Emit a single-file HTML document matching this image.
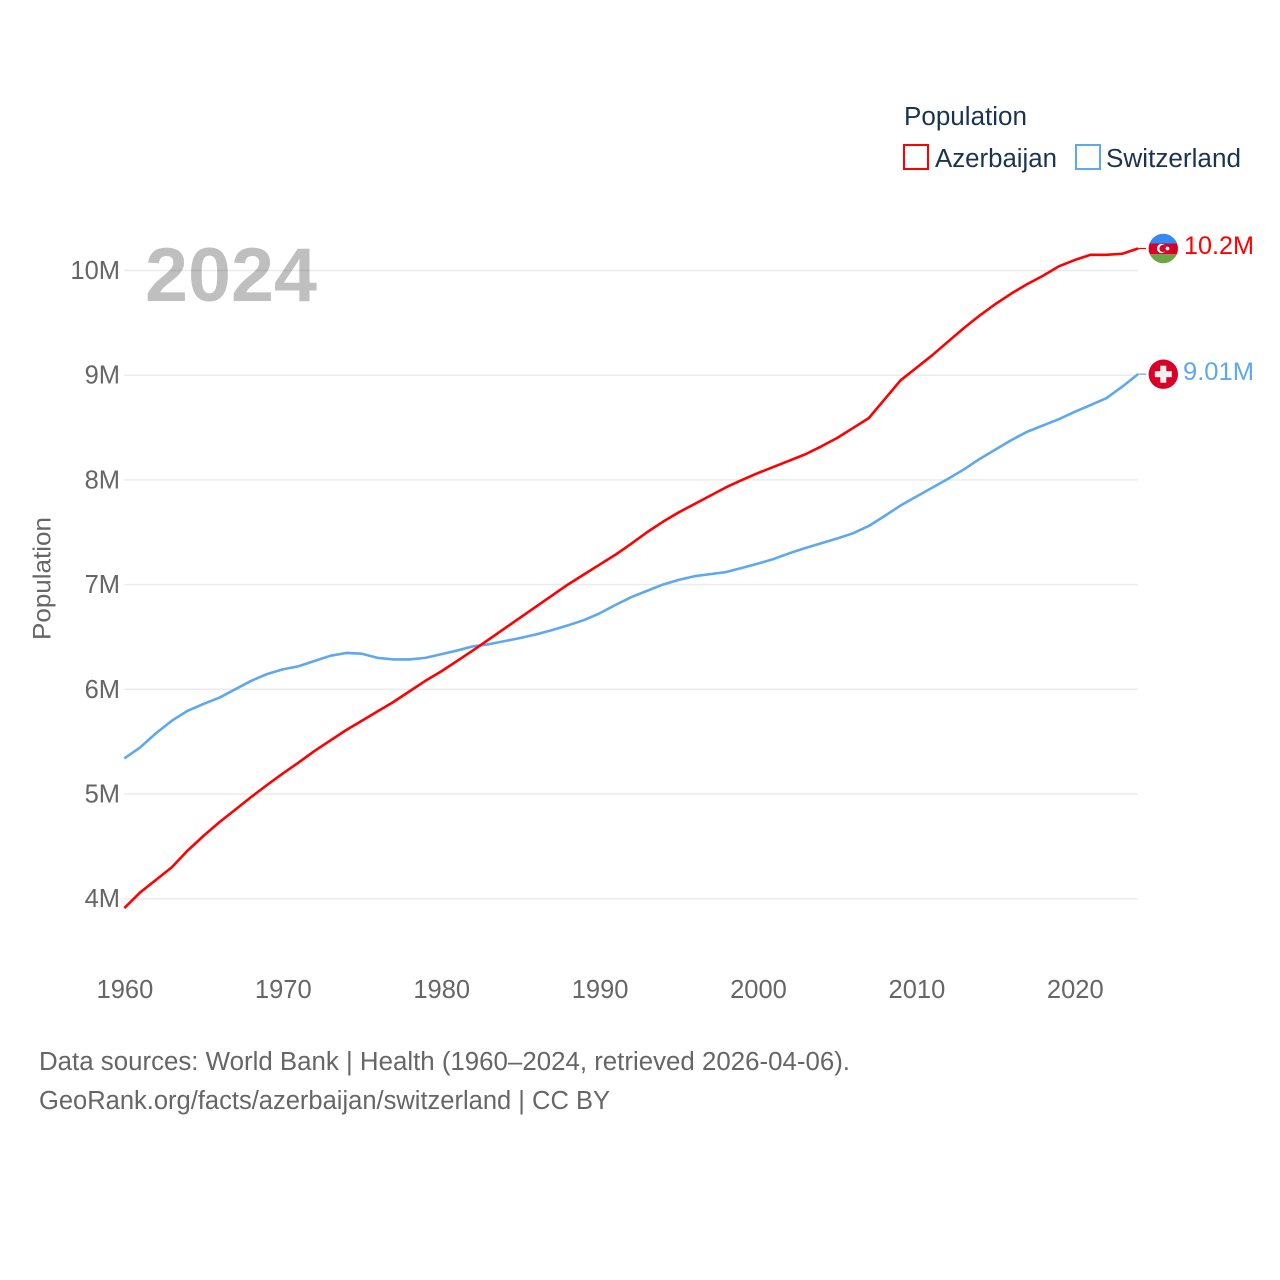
<!DOCTYPE html>
<html lang="en">
<head>
<meta charset="utf-8">
<title>Population: Azerbaijan and Switzerland</title>
<style>
html,body{margin:0;padding:0;background:#fff;width:1280px;height:1280px;overflow:hidden}
svg{display:block}
text{font-family:"Liberation Sans",sans-serif}
</style>
</head>
<body>
<svg id="chart" width="1280" height="1280" viewBox="0 0 1280 1280" xmlns="http://www.w3.org/2000/svg">
  <defs>
    <clipPath id="clip-az"><circle cx="1163.3" cy="248.5" r="14.7"/></clipPath>
  </defs>
  <text x="145" y="301" font-size="76" font-weight="700" fill="#bfbfbf" textLength="172" lengthAdjust="spacingAndGlyphs">2024</text>
  <g id="grid"></g>
  <g id="y-ticks"></g>
  <g id="x-ticks"></g>
  <text transform="translate(50.5 640) rotate(-90)" font-size="25" fill="#666666" textLength="123" lengthAdjust="spacingAndGlyphs">Population</text>
  <g id="series"></g>

  <g>
    <text x="904" y="125" font-size="25.5" fill="#1b3350" textLength="123" lengthAdjust="spacingAndGlyphs">Population</text>
    <rect x="904" y="145" width="24" height="24" fill="none" stroke="#ff0000" stroke-width="2"/>
    <text x="935" y="167" font-size="25.5" fill="#1b3350" textLength="122" lengthAdjust="spacingAndGlyphs">Azerbaijan</text>
    <rect x="1076" y="145" width="24" height="24" fill="none" stroke="#5ea8ee" stroke-width="2"/>
    <text x="1106" y="167" font-size="25.5" fill="#1b3350" textLength="135" lengthAdjust="spacingAndGlyphs">Switzerland</text>
  </g>

  <g>
    <g clip-path="url(#clip-az)">
      <rect x="1148" y="233" width="31" height="10.5" fill="#338af3"/>
      <rect x="1148" y="243.5" width="31" height="10.8" fill="#d80027"/>
      <rect x="1148" y="254.3" width="31" height="10" fill="#6da544"/>
    </g>
    <circle cx="1161.5" cy="248.5" r="4.6" fill="#ffffff"/>
    <circle cx="1163" cy="248.5" r="3.6" fill="#d80027"/>
    <circle cx="1167.5" cy="248.5" r="1.9" fill="#ffffff"/>
  </g>
  <g>
    <circle cx="1163.3" cy="374.2" r="14.7" fill="#d80027"/>
    <rect x="1160.3" y="365.7" width="6" height="17" fill="#f0f0f0"/>
    <rect x="1154.8" y="371.2" width="17" height="6" fill="#f0f0f0"/>
  </g>
  <text x="1184" y="254" font-size="25" fill="#ff0000" textLength="70" lengthAdjust="spacingAndGlyphs">10.2M</text>
  <text x="1183" y="380" font-size="25" fill="#5ea8ee" textLength="71" lengthAdjust="spacingAndGlyphs">9.01M</text>

  <g>
    <text x="39" y="1070" font-size="25.5" fill="#666666" textLength="811" lengthAdjust="spacingAndGlyphs">Data sources: World Bank | Health (1960–2024, retrieved 2026-04-06).</text>
    <text x="39" y="1109" font-size="25.5" fill="#666666" textLength="571" lengthAdjust="spacingAndGlyphs">GeoRank.org/facts/azerbaijan/switzerland | CC BY</text>
  </g>
</svg>
<script>
const years = [1960,1961,1962,1963,1964,1965,1966,1967,1968,1969,1970,1971,1972,1973,1974,1975,1976,1977,1978,1979,1980,1981,1982,1983,1984,1985,1986,1987,1988,1989,1990,1991,1992,1993,1994,1995,1996,1997,1998,1999,2000,2001,2002,2003,2004,2005,2006,2007,2008,2009,2010,2011,2012,2013,2014,2015,2016,2017,2018,2019,2020,2021,2022,2023,2024];
const azerbaijan = [3.91,4.06,4.18,4.30,4.46,4.60,4.73,4.85,4.97,5.085,5.195,5.30,5.41,5.51,5.61,5.70,5.79,5.88,5.98,6.08,6.17,6.27,6.37,6.475,6.58,6.685,6.79,6.895,7.00,7.095,7.19,7.285,7.39,7.50,7.60,7.69,7.77,7.85,7.93,8.00,8.065,8.125,8.185,8.245,8.32,8.40,8.495,8.59,8.77,8.95,9.07,9.19,9.32,9.45,9.57,9.68,9.78,9.87,9.95,10.04,10.10,10.15,10.15,10.16,10.21];
const switzerland = [5.34,5.445,5.58,5.70,5.795,5.86,5.92,6.00,6.08,6.145,6.19,6.22,6.27,6.32,6.347,6.34,6.30,6.285,6.285,6.30,6.335,6.37,6.41,6.43,6.46,6.49,6.525,6.565,6.61,6.66,6.725,6.805,6.88,6.94,7.00,7.045,7.08,7.10,7.12,7.16,7.20,7.245,7.30,7.35,7.395,7.44,7.49,7.56,7.655,7.755,7.84,7.925,8.01,8.10,8.20,8.29,8.38,8.46,8.52,8.58,8.65,8.715,8.78,8.89,9.01];
const yTickValues = [4,5,6,7,8,9,10];
const yTickLabels = ["4M","5M","6M","7M","8M","9M","10M"];
const xTickValues = [1960,1970,1980,1990,2000,2010,2020];

function xScale(year) { return 124.3 + (year - 1960) * 15.84; }
function yScale(value) { return 898.7 - (value - 4) * 104.7; }

const NS = 'http://www.w3.org/2000/svg';
const gridLayer = document.getElementById('grid');
const yLayer = document.getElementById('y-ticks');
const xLayer = document.getElementById('x-ticks');
const seriesLayer = document.getElementById('series');

yTickValues.forEach(function (value, i) {
  const line = document.createElementNS(NS, 'line');
  
  
  line.setAttribute('x1', xScale(1960));
  line.setAttribute('x2', xScale(2024));
  line.setAttribute('y1', yScale(value));
  line.setAttribute('y2', yScale(value));
  line.setAttribute('stroke', 'rgba(0,0,0,0.08)');
  line.setAttribute('stroke-width', '1.5');
  gridLayer.appendChild(line);

  const label = document.createElementNS(NS, 'text');
  
  
  label.setAttribute('x', 120);
  label.setAttribute('y', yScale(value) + 8.5);
  label.setAttribute('text-anchor', 'end');
  label.setAttribute('font-size', '25.5');
  label.setAttribute('fill', '#666666');
  label.textContent = yTickLabels[i];
  yLayer.appendChild(label);
});

xTickValues.forEach(function (year) {
  const label = document.createElementNS(NS, 'text');
  
  
  label.setAttribute('x', xScale(year) + 0.6);
  label.setAttribute('y', 998);
  label.setAttribute('text-anchor', 'middle');
  label.setAttribute('font-size', '25.5');
  label.setAttribute('fill', '#666666');
  label.textContent = String(year);
  xLayer.appendChild(label);
});

function drawLine(values, color) {
  const path = document.createElementNS(NS, 'path');
  const d = values.map(function (v, i) {
    return (i ? 'L' : 'M') + xScale(years[i]).toFixed(2) + ' ' + yScale(v).toFixed(2);
  }).join(' ');
  path.setAttribute('d', d);
  path.setAttribute('fill', 'none');
  path.setAttribute('stroke', color);
  path.setAttribute('stroke-width', '2.6');
  path.setAttribute('stroke-linejoin', 'round');
  return path;
}

function drawLeader(values, color) {
  const last = values[values.length - 1];
  const leader = document.createElementNS(NS, 'line');
  leader.setAttribute('x1', xScale(years[years.length - 1]));
  leader.setAttribute('x2', xScale(years[years.length - 1]) + 8);
  leader.setAttribute('y1', yScale(last));
  leader.setAttribute('y2', yScale(last));
  leader.setAttribute('stroke', color);
  leader.setAttribute('stroke-width', '1.2');
  return leader;
}

const swissLine = drawLine(switzerland, '#5ea8ee');


seriesLayer.appendChild(swissLine);

const azLine = drawLine(azerbaijan, '#ff0000');


seriesLayer.appendChild(azLine);

const swissLeader = drawLeader(switzerland, '#5ea8ee');


seriesLayer.appendChild(swissLeader);

const azLeader = drawLeader(azerbaijan, '#ff0000');


seriesLayer.appendChild(azLeader);
</script>
</body>
</html>
